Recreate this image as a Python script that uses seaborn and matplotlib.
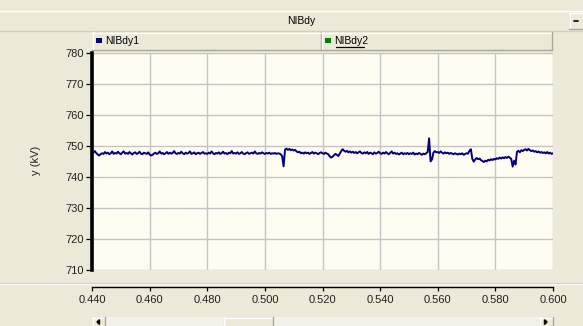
import numpy as np
import pandas as pd
import seaborn as sns
import matplotlib
matplotlib.use("Agg")
import matplotlib.pyplot as plt
from matplotlib.patches import Rectangle, Polygon
from matplotlib.lines import Line2D

# ---- data -------------------------------------------------------------
title = "NIBdy"
series_names = ["NIBdy1", "NIBdy2"]
series_colors = ["#000080", "#008000"]
y_label = "y (kV)"
x_ticks = [0.440, 0.460, 0.480, 0.500, 0.520, 0.540, 0.560, 0.580, 0.600]
y_ticks = [710, 720, 730, 740, 750, 760, 770, 780]

t_start, t_step = 0.440, 0.0005
nibdy1 = [
    748.1, 747.8, 748.3, 747.6, 747.2, 746.9, 747.3, 747.6, 747.4, 748.0,
    747.5, 747.8, 747.3, 747.6, 748.2, 747.4, 747.7, 747.5, 748.1, 747.6,
    747.3, 747.8, 748.2, 747.5, 747.7, 747.4, 748.0, 747.6, 747.2, 747.7,
    747.9, 747.4, 747.6, 748.1, 747.5, 747.3, 747.8, 747.6, 747.4, 747.9,
    747.2, 746.9, 747.1, 747.5, 747.8, 747.4, 747.6, 748.2, 747.5, 747.7,
    747.3, 747.6, 748.0, 747.4, 747.8, 747.5, 747.7, 748.3, 747.6, 747.4,
    747.7, 747.5, 748.1, 747.6, 747.3, 747.8, 747.5, 747.7, 748.2, 747.4,
    747.6, 747.9, 747.3, 747.6, 747.8, 747.4, 747.7, 748.0, 747.5, 747.6,
    747.4, 747.8, 747.5, 748.2, 747.6, 747.3, 747.7, 747.5, 747.9, 747.4,
    747.6, 748.1, 747.5, 747.7, 747.3, 747.8, 747.6, 748.3, 747.5, 747.7,
    747.5, 747.9, 747.4, 747.6, 748.0, 747.5, 747.3, 747.7, 747.9, 747.4,
    747.6, 747.8, 747.5, 748.2, 747.6, 747.4, 747.7, 747.5, 747.9, 747.6,
    747.4, 747.7, 747.5, 747.8, 747.4, 747.6, 747.5, 747.7, 747.4, 747.6,
    747.5, 747.3, 746.6, 743.4, 748.8, 749.1, 748.7, 749.0, 748.6, 748.8,
    748.5, 748.7, 748.2, 747.9, 748.1, 747.6, 747.8, 747.5, 747.9, 747.6,
    747.8, 747.4, 747.7, 748.0, 747.5, 747.8, 747.6, 747.3, 747.7, 747.9,
    747.6, 747.4, 747.8, 747.5, 747.3, 746.6, 746.2, 746.5, 747.0, 747.4,
    747.1, 746.7, 747.5, 748.3, 748.9, 748.4, 748.1, 748.4, 747.9, 748.2,
    747.8, 748.1, 747.7, 748.0, 747.6, 747.9, 748.2, 747.7, 747.5, 747.9,
    747.6, 748.0, 747.4, 747.8, 747.6, 747.3, 747.9, 747.5, 747.7, 748.1,
    747.6, 747.4, 747.8, 747.5, 748.0, 747.6, 747.3, 747.7, 748.2, 747.5,
    747.8, 747.4, 747.6, 747.2, 747.5, 747.8, 747.3, 747.6, 747.4, 747.7,
    747.3, 747.6, 747.4, 747.8, 747.2, 747.5, 747.3, 747.7, 747.4, 747.1,
    747.5, 747.3, 747.6, 748.0, 752.4, 745.0, 745.6, 747.8, 748.3, 747.9,
    748.0, 747.7, 748.2, 747.8, 747.5, 747.9, 747.6, 747.8, 747.4, 747.7,
    747.5, 747.3, 747.6, 747.4, 747.2, 747.5, 747.3, 747.6, 747.1, 747.4,
    747.6, 747.5, 748.4, 748.9, 745.8, 744.9, 745.6, 746.1, 745.7, 745.9,
    745.4, 745.1, 744.8, 745.2, 745.0, 745.5, 745.3, 745.7, 745.4, 745.8,
    745.6, 746.0, 745.8, 746.2, 745.9, 746.3, 746.0, 746.4, 746.1, 746.5,
    746.2, 745.8, 743.3, 745.2, 744.0, 748.1, 748.4, 747.9, 748.6, 748.3,
    748.7, 748.9, 748.5, 749.0, 748.6, 748.3, 748.5, 748.1, 748.3, 747.9,
    748.2, 747.8, 748.0, 747.7, 747.9, 747.6, 748.0, 747.5, 747.8, 747.4,
    747.6,
]
t = t_start + t_step * np.arange(len(nibdy1))
df = pd.DataFrame({"t": t, "v": nibdy1})

# ---- figure -----------------------------------------------------------
W, H = 583, 326
sns.set_theme(style="white")
plt.rcParams["font.family"] = ["Liberation Sans", "DejaVu Sans"]
panel = "#ECE9D8"
fig = plt.figure(figsize=(W / 100, H / 100), dpi=100, facecolor=panel)


def fx(px):
    return px / W


def fy(py):
    return 1 - py / H


def rect(x0, y0, x1, y1, **kw):
    fig.add_artist(Rectangle((fx(x0), fy(y1)), fx(x1) - fx(x0), fy(y0) - fy(y1),
                             transform=fig.transFigure, **kw))


def hline(x0, x1, y, color, lw=1.0):
    fig.add_artist(Line2D([fx(x0), fx(x1)], [fy(y), fy(y)], color=color, lw=lw,
                          transform=fig.transFigure))


def vline(x, y0, y1, color, lw=1.0):
    fig.add_artist(Line2D([fx(x), fx(x)], [fy(y0), fy(y1)], color=color, lw=lw,
                          transform=fig.transFigure))


def button(x0, y0, x1, y1):
    rect(x0, y0, x1, y1, facecolor=panel, edgecolor="none")
    hline(x0, x1, y0 + 0.5, "white")
    vline(x0 + 0.5, y0, y1, "white")
    hline(x0, x1, y1 - 0.5, "#A9A797")
    vline(x1 - 0.5, y0, y1, "#A9A797")


# title bar
hline(0, W, 10.5, "white")
hline(0, W, 30.5, "#D4D0C0")
fig.text(fx(301), fy(20.5), title, ha="center", va="center", fontsize=7.5, color="black")
button(569, 12, 584, 29)
hline(574, 578, 20.5, "black", lw=1.2)

# legend strip
cells = [(92, 321), (321, 552)]
for (x0, x1), name, col in zip(cells, series_names, series_colors):
    button(x0, 32, x1, 50)
    rect(x0 + 4, 38, x0 + 10, 43, facecolor=col, edgecolor="none")
    fig.text(fx(x0 + 13), fy(41), name, ha="left", va="center", fontsize=7.5, color="black")
hline(336, 364, 47, "black", lw=0.9)

# plot area
ax_l, ax_r, ax_t, ax_b = 92, 553, 52.7, 270
ax = fig.add_axes([fx(ax_l), fy(ax_b), fx(ax_r) - fx(ax_l), fy(ax_t) - fy(ax_b)])
ax.set_facecolor("#FFFDF2")
for s in ("top", "right"):
    ax.spines[s].set_visible(False)
ax.spines["bottom"].set_position(("outward", 17 * 0.72))
ax.spines["left"].set_color("black")
ax.spines["left"].set_linewidth(2.6)
ax.spines["bottom"].set_color("black")
ax.spines["bottom"].set_linewidth(1.0)

sns.lineplot(data=df, x="t", y="v", ax=ax, color=series_colors[0], linewidth=1.4,
             estimator=None, sort=False)
ax.set_xlim(x_ticks[0], x_ticks[-1])
ax.set_ylim(y_ticks[0], y_ticks[-1])
ax.set_xticks(x_ticks)
ax.set_yticks(y_ticks)
ax.set_xticklabels([f"{v:.3f}" for v in x_ticks])
ax.set_yticklabels([str(v) for v in y_ticks])
ax.grid(True, color="#C4C4C4", linewidth=1.0)
ax.set_axisbelow(True)
ax.set_xlabel("")
ax.set_ylabel("")
ax.tick_params(axis="y", left=True, direction="out", length=4, width=0.9, color="black",
               pad=2, labelsize=8, labelcolor="#222222")
ax.tick_params(axis="x", bottom=True, direction="out", length=3, width=0.9, color="black",
               pad=3, labelsize=8, labelcolor="#222222")

# separator between plot and axis strip
hline(0, W, 283.5, "white")
hline(0, W, 282.5, "#D8D4C4")

fig.text(fx(36), fy(160), y_label, rotation=90, ha="center", va="center",
         fontsize=8, color="#222222")

# scroll bar
rect(92, 317, 553, 327, facecolor="#F3F1EA", edgecolor="none")
button(92, 317, 105, 327)
button(223, 317, 273, 327)
button(539, 317, 553, 327)
fig.add_artist(Polygon([[fx(97), fy(322)], [fx(99.5), fy(319.5)], [fx(99.5), fy(324.5)]],
                       closed=True, color="black", transform=fig.transFigure))
fig.add_artist(Polygon([[fx(547), fy(322)], [fx(544.5), fy(319.5)], [fx(544.5), fy(324.5)]],
                       closed=True, color="black", transform=fig.transFigure))

fig.savefig("out.png", dpi=100, facecolor=panel)
